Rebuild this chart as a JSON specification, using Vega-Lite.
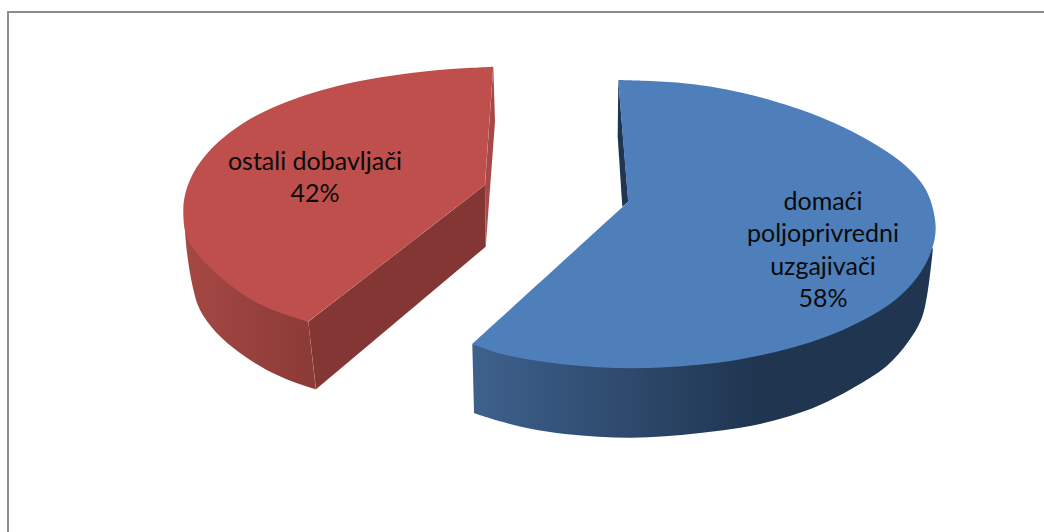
{"$schema":"https://vega.github.io/schema/vega-lite/v6.json","width":1044,"height":532,"padding":0,"autosize":{"type":"fit","contains":"padding"},"background":"white","config":{"view":{"stroke":null}},
"datasets":{"outline":[
{"part":"frame","n":1,"x":8,"y":532},{"part":"frame","n":2,"x":8,"y":12},{"part":"frame","n":3,"x":1044,"y":12},
{"part":"blueSide","n":1,"x":472.3,"y":344},{"part":"blueSide","n":2,"x":472.3,"y":344},{"part":"blueSide","n":3,"x":474.3,"y":413.3},{"part":"blueSide","n":4,"x":474.3,"y":413.3},{"part":"blueSide","n":5,"x":498,"y":420.7},{"part":"blueSide","n":6,"x":531.7,"y":429},{"part":"blueSide","n":7,"x":565,"y":434},{"part":"blueSide","n":8,"x":598,"y":436.7},{"part":"blueSide","n":9,"x":631.7,"y":437.7},{"part":"blueSide","n":10,"x":665,"y":436.3},{"part":"blueSide","n":11,"x":698,"y":433.3},{"part":"blueSide","n":12,"x":731.7,"y":429},{"part":"blueSide","n":13,"x":760,"y":424},{"part":"blueSide","n":14,"x":790,"y":416},{"part":"blueSide","n":15,"x":820,"y":405},{"part":"blueSide","n":16,"x":853,"y":388},{"part":"blueSide","n":17,"x":886.7,"y":366},{"part":"blueSide","n":18,"x":908,"y":342},{"part":"blueSide","n":19,"x":921,"y":320},{"part":"blueSide","n":20,"x":927,"y":296},{"part":"blueSide","n":21,"x":933,"y":248},{"part":"blueSide","n":22,"x":933,"y":248},{"part":"blueSide","n":23,"x":860,"y":300},{"part":"blueSide","n":24,"x":665,"y":360},{"part":"blueSide","n":25,"x":472.3,"y":344},{"part":"blueSide","n":26,"x":472.3,"y":344},
{"part":"blueSliver","n":1,"x":618.3,"y":80},{"part":"blueSliver","n":2,"x":617.7,"y":136.7},{"part":"blueSliver","n":3,"x":622.3,"y":206.7},{"part":"blueSliver","n":4,"x":628.3,"y":201.7},
{"part":"blueTop","n":1,"x":618.3,"y":80},{"part":"blueTop","n":2,"x":618.3,"y":80},{"part":"blueTop","n":3,"x":628.3,"y":201.7},{"part":"blueTop","n":4,"x":628.3,"y":201.7},{"part":"blueTop","n":5,"x":472.3,"y":344},{"part":"blueTop","n":6,"x":472.3,"y":344},{"part":"blueTop","n":7,"x":498,"y":353},{"part":"blueTop","n":8,"x":531.7,"y":360},{"part":"blueTop","n":9,"x":565,"y":364.5},{"part":"blueTop","n":10,"x":598,"y":367.3},{"part":"blueTop","n":11,"x":631.7,"y":368.3},{"part":"blueTop","n":12,"x":665,"y":367.3},{"part":"blueTop","n":13,"x":698,"y":364.7},{"part":"blueTop","n":14,"x":731.7,"y":360.7},{"part":"blueTop","n":15,"x":762,"y":355},{"part":"blueTop","n":16,"x":793,"y":347.5},{"part":"blueTop","n":17,"x":826.7,"y":336.5},{"part":"blueTop","n":18,"x":860,"y":321.7},{"part":"blueTop","n":19,"x":893,"y":301.7},{"part":"blueTop","n":20,"x":916.7,"y":278},{"part":"blueTop","n":21,"x":931,"y":252},{"part":"blueTop","n":22,"x":935.7,"y":228},{"part":"blueTop","n":23,"x":930,"y":199},{"part":"blueTop","n":24,"x":920,"y":181},{"part":"blueTop","n":25,"x":900,"y":161},{"part":"blueTop","n":26,"x":873,"y":143},{"part":"blueTop","n":27,"x":843,"y":127},{"part":"blueTop","n":28,"x":810,"y":113},{"part":"blueTop","n":29,"x":776.7,"y":102},{"part":"blueTop","n":30,"x":743,"y":93},{"part":"blueTop","n":31,"x":710,"y":86.5},{"part":"blueTop","n":32,"x":676.7,"y":82.5},{"part":"blueTop","n":33,"x":643,"y":80.7},{"part":"blueTop","n":34,"x":618.3,"y":80},{"part":"blueTop","n":35,"x":618.3,"y":80},
{"part":"redSide","n":1,"x":184,"y":212},{"part":"redSide","n":2,"x":184,"y":212},{"part":"redSide","n":3,"x":186.7,"y":250},{"part":"redSide","n":4,"x":192.7,"y":286.7},{"part":"redSide","n":5,"x":200,"y":310},{"part":"redSide","n":6,"x":216.7,"y":333},{"part":"redSide","n":7,"x":240,"y":353},{"part":"redSide","n":8,"x":266.7,"y":370},{"part":"redSide","n":9,"x":293,"y":381.7},{"part":"redSide","n":10,"x":316,"y":389.3},{"part":"redSide","n":11,"x":316,"y":389.3},{"part":"redSide","n":12,"x":308.3,"y":321.7},{"part":"redSide","n":13,"x":308.3,"y":321.7},{"part":"redSide","n":14,"x":273,"y":305},{"part":"redSide","n":15,"x":220,"y":270},{"part":"redSide","n":16,"x":184,"y":212},{"part":"redSide","n":17,"x":184,"y":212},
{"part":"redInner","n":1,"x":485,"y":185},{"part":"redInner","n":2,"x":485.7,"y":246.7},{"part":"redInner","n":3,"x":316,"y":389.3},{"part":"redInner","n":4,"x":308.3,"y":321.7},
{"part":"redSliver","n":1,"x":493.3,"y":66.7},{"part":"redSliver","n":2,"x":495,"y":121.7},{"part":"redSliver","n":3,"x":485.7,"y":246.7},{"part":"redSliver","n":4,"x":485,"y":185},
{"part":"redTop","n":1,"x":493.3,"y":66.7},{"part":"redTop","n":2,"x":493.3,"y":66.7},{"part":"redTop","n":3,"x":485,"y":185},{"part":"redTop","n":4,"x":485,"y":185},{"part":"redTop","n":5,"x":308.3,"y":321.7},{"part":"redTop","n":6,"x":308.3,"y":321.7},{"part":"redTop","n":7,"x":273,"y":310},{"part":"redTop","n":8,"x":246.7,"y":296.7},{"part":"redTop","n":9,"x":220,"y":276.7},{"part":"redTop","n":10,"x":200,"y":256.7},{"part":"redTop","n":11,"x":186.7,"y":236.7},{"part":"redTop","n":12,"x":183.3,"y":210},{"part":"redTop","n":13,"x":185.5,"y":193},{"part":"redTop","n":14,"x":193.3,"y":173},{"part":"redTop","n":15,"x":206.7,"y":154},{"part":"redTop","n":16,"x":223,"y":138},{"part":"redTop","n":17,"x":246.7,"y":121},{"part":"redTop","n":18,"x":273,"y":107.5},{"part":"redTop","n":19,"x":300,"y":97},{"part":"redTop","n":20,"x":330,"y":88},{"part":"redTop","n":21,"x":360,"y":81},{"part":"redTop","n":22,"x":400,"y":74.5},{"part":"redTop","n":23,"x":445,"y":69.5},{"part":"redTop","n":24,"x":493.3,"y":66.7},{"part":"redTop","n":25,"x":493.3,"y":66.7}
],"labels":[
{"label":"ostali dobavljači","x":315,"y":162},{"label":"42%","x":315,"y":194},
{"label":"domaći","x":823,"y":202},{"label":"poljoprivredni","x":823,"y":234},{"label":"uzgajivači","x":823,"y":267},{"label":"58%","x":823,"y":299}
]},
"encoding":{"x":{"field":"x","type":"quantitative","scale":{"domain":[0,1044]},"axis":null},"y":{"field":"y","type":"quantitative","scale":{"domain":[532,0]},"axis":null},"order":{"field":"n","type":"quantitative"}},
"layer":[
{"data":{"name":"outline"},"transform":[{"filter":"datum.part==='frame'"}],"mark":{"type":"line","stroke":"#8c8c8c","strokeWidth":2,"clip":true}},
{"data":{"name":"outline"},"transform":[{"filter":"datum.part==='blueSide'"}],"mark":{"type":"line","interpolate":"catmull-rom","strokeWidth":0,"fill":{"x1":0,"x2":1,"y1":0,"y2":0,"gradient":"linear","stops":[{"offset":0,"color":"#3e618d"},{"offset":0.62,"color":"#1f3550"},{"offset":1,"color":"#1f3550"}]}}},
{"data":{"name":"outline"},"transform":[{"filter":"datum.part==='blueSliver'"}],"mark":{"type":"line","strokeWidth":0,"fill":"#1f3550"}},
{"data":{"name":"outline"},"transform":[{"filter":"datum.part==='blueTop'"}],"mark":{"type":"line","interpolate":"catmull-rom","strokeWidth":0,"fill":"#4e7fba"}},
{"data":{"name":"outline"},"transform":[{"filter":"datum.part==='redSide'"}],"mark":{"type":"line","interpolate":"catmull-rom","strokeWidth":0,"fill":{"x1":0,"x2":1,"y1":0,"y2":0,"gradient":"linear","stops":[{"offset":0,"color":"#a64844"},{"offset":1,"color":"#8b3a37"}]}}},
{"data":{"name":"outline"},"transform":[{"filter":"datum.part==='redInner'"}],"mark":{"type":"line","strokeWidth":0,"fill":"#843634"}},
{"data":{"name":"outline"},"transform":[{"filter":"datum.part==='redSliver'"}],"mark":{"type":"line","strokeWidth":0,"fill":"#a64a47"}},
{"data":{"name":"outline"},"transform":[{"filter":"datum.part==='redTop'"}],"mark":{"type":"line","interpolate":"catmull-rom","strokeWidth":0,"fill":"#be4f4c"}},
{"data":{"name":"labels"},"mark":{"type":"text","font":"Lato","fontSize":25,"color":"#0a0a0a","align":"center","baseline":"middle"},"encoding":{"text":{"field":"label","type":"nominal"},"order":{"value":null}}}
]}
